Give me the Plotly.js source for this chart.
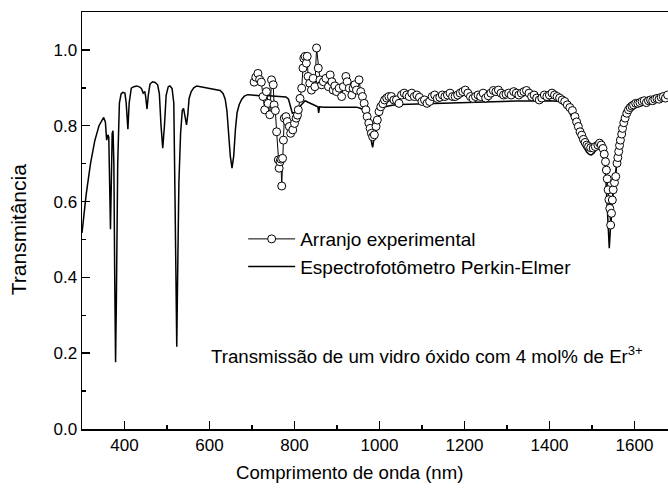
<!DOCTYPE html>
<html>
<head>
<meta charset="utf-8">
<script src="https://cdn.plot.ly/plotly-3.0.1.min.js"></script>
<style>html,body{margin:0;padding:0;background:#fff}#chart{width:668px;height:492px}</style>
</head>
<body>
<div id="chart"></div>
<script>
// Perkin-Elmer spectrophotometer curve (wavelength nm, transmittance)
const peWavelength = [300,310,320,330,340,351,355,358,361,363,365,367,369,371,373,375,377,379,381,384,388,392,396,401,404,408,411,416,422,429,436,440,444,448,450,453,456,460,466,472,478,482,486,490,494,498,503,507,512,516,519,521,523,525,528,532,536,539,542,546,549,552,557,563,570,580,600,615,625,632,637,641,645,649,653,657,661,665,670,676,682,690,700,720,740,760,780,786,790,795,800,806,813,820,825,832,840,848,855,857,859,870,890,920,946,955,962,968,974,979,982,984,987,991,997,1005,1013,1030,1050,1080,1120,1160,1200,1240,1280,1320,1360,1400,1425,1435,1445,1456,1466,1474,1480,1488,1494,1499,1505,1510,1515,1519,1523,1527,1531,1535,1538,1540.8,1543,1546,1550,1554,1560,1565,1570,1575,1580,1589,1600,1615,1629,1645,1660,1679];
const peTransmittance = [0.517,0.62,0.70,0.76,0.80,0.822,0.81,0.762,0.776,0.77,0.65,0.527,0.65,0.78,0.787,0.70,0.40,0.176,0.35,0.70,0.86,0.884,0.888,0.886,0.86,0.791,0.86,0.899,0.903,0.905,0.902,0.898,0.886,0.890,0.875,0.844,0.88,0.910,0.916,0.914,0.908,0.885,0.80,0.741,0.80,0.880,0.903,0.905,0.898,0.86,0.60,0.35,0.217,0.40,0.65,0.78,0.84,0.846,0.825,0.802,0.83,0.872,0.890,0.900,0.905,0.903,0.900,0.896,0.893,0.885,0.870,0.84,0.78,0.72,0.688,0.72,0.79,0.835,0.856,0.870,0.878,0.882,0.881,0.879,0.879,0.878,0.876,0.870,0.855,0.833,0.835,0.843,0.851,0.862,0.866,0.862,0.858,0.854,0.850,0.834,0.850,0.849,0.849,0.849,0.849,0.846,0.842,0.825,0.800,0.772,0.752,0.743,0.765,0.800,0.820,0.838,0.850,0.854,0.856,0.857,0.859,0.860,0.861,0.863,0.864,0.865,0.865,0.866,0.864,0.855,0.840,0.815,0.782,0.757,0.745,0.730,0.724,0.723,0.728,0.740,0.752,0.758,0.752,0.735,0.70,0.62,0.54,0.477,0.52,0.58,0.625,0.657,0.73,0.775,0.807,0.830,0.845,0.855,0.858,0.860,0.861,0.865,0.868,0.872];

// Experimental setup (wavelength nm, transmittance)
const expWavelength = [705,709,714,718,722,726,730,734,738,742,746,750,752,755,758,762,764,766,768,770,772,774,776,780,783,788,791,796,800,804,807,809,813,817,820,822,825,828,830,832,836,840,844,848,852,856,860,864,868,874,880,884,888,891,895,899,905,911,915,921,924,929,935,938,942,946,952,956,960,964,968,971,975,978,981,984,988,992,995,999,1003,1008,1012,1017,1022,1028,1034,1040,1046,1052,1058,1064,1070,1076,1082,1088,1094,1100,1106,1112,1118,1124,1130,1136,1142,1148,1154,1160,1166,1172,1178,1184,1190,1196,1202,1208,1214,1220,1226,1232,1238,1244,1250,1256,1262,1268,1274,1280,1286,1292,1298,1304,1310,1316,1322,1328,1334,1340,1346,1352,1358,1364,1370,1376,1382,1388,1394,1400,1406,1412,1418,1424,1430,1436,1442,1448,1454,1460,1464,1468,1472,1476,1480,1484,1488,1492,1497,1503,1508,1514,1518,1522,1526,1529,1532,1534,1536,1538,1540,1542,1544,1546,1548,1550,1553,1556,1559,1561,1563,1565,1567,1570,1572,1575,1578,1582,1586,1590,1594,1598,1603,1608,1613,1618,1623,1628,1633,1638,1643,1648,1653,1658,1663,1668,1673,1678];
const expTransmittance = [0.915,0.928,0.938,0.922,0.915,0.877,0.842,0.890,0.859,0.829,0.921,0.908,0.855,0.840,0.784,0.710,0.688,0.705,0.712,0.641,0.714,0.762,0.820,0.824,0.811,0.798,0.780,0.789,0.806,0.820,0.828,0.842,0.872,0.899,0.952,0.978,0.983,0.965,0.983,0.930,0.912,0.894,0.925,0.903,1.005,0.952,0.921,0.908,0.916,0.925,0.903,0.934,0.916,0.894,0.905,0.890,0.899,0.877,0.903,0.930,0.916,0.899,0.881,0.899,0.908,0.894,0.921,0.890,0.877,0.859,0.842,0.824,0.807,0.793,0.780,0.771,0.776,0.798,0.815,0.837,0.850,0.858,0.868,0.873,0.877,0.877,0.868,0.868,0.859,0.881,0.886,0.881,0.877,0.886,0.877,0.881,0.875,0.864,0.868,0.859,0.864,0.877,0.881,0.872,0.875,0.881,0.877,0.881,0.886,0.877,0.877,0.881,0.886,0.890,0.894,0.886,0.877,0.872,0.877,0.881,0.877,0.886,0.873,0.879,0.886,0.893,0.890,0.894,0.886,0.881,0.883,0.886,0.881,0.890,0.886,0.881,0.886,0.890,0.893,0.886,0.877,0.881,0.873,0.868,0.873,0.881,0.877,0.881,0.886,0.881,0.877,0.873,0.868,0.864,0.855,0.848,0.840,0.824,0.810,0.798,0.784,0.775,0.764,0.756,0.749,0.745,0.742,0.741,0.745,0.749,0.754,0.749,0.740,0.725,0.705,0.683,0.660,0.631,0.605,0.582,0.538,0.569,0.604,0.631,0.650,0.666,0.701,0.716,0.732,0.748,0.762,0.778,0.793,0.808,0.820,0.833,0.842,0.848,0.852,0.855,0.859,0.859,0.861,0.864,0.866,0.861,0.866,0.868,0.866,0.870,0.872,0.870,0.875,0.877,0.873,0.881];

const seriesNames = ['Arranjo experimental', 'Espectrofotômetro Perkin-Elmer'];
const annotationText = 'Transmissão de um vidro óxido com 4 mol% de Er<sup>3+</sup>';
const xTitle = 'Comprimento de onda (nm)';
const yTitle = 'Transmitância';

const FONT = 'Liberation Sans, Arial, sans-serif';

const traces = [
  {
    x: peWavelength, y: peTransmittance, name: seriesNames[1],
    mode: 'lines', type: 'scatter',
    line: {color: '#000', width: 1.5}, legendrank: 2
  },
  {
    x: expWavelength, y: expTransmittance, name: seriesNames[0],
    mode: 'lines+markers', type: 'scatter',
    line: {color: '#000', width: 1},
    marker: {symbol: 'circle', size: 8, color: '#fff', line: {color: '#000', width: 1}},
    legendrank: 1
  }
];

const layout = {
  width: 668, height: 492,
  margin: {l: 82, r: 0, t: 12, b: 63},
  paper_bgcolor: '#fff', plot_bgcolor: '#fff',
  font: {family: FONT, color: '#000', size: 17},
  showlegend: true,
  legend: {
    x: 0.275, y: 0.422, xanchor: 'left', yanchor: 'middle',
    bgcolor: 'rgba(0,0,0,0)', font: {size: 19, family: FONT},
    itemwidth: 47, tracegroupgap: 0
  },
  xaxis: {
    range: [300, 1679], showgrid: false, zeroline: false,
    showline: true, linecolor: '#000', linewidth: 1.5, mirror: true,
    ticks: 'inside', ticklen: 8, tickwidth: 1.5, tickcolor: '#000',
    tick0: 0, dtick: 200,
    minor: {ticks: 'inside', ticklen: 4, tickwidth: 1.5, tickcolor: '#000', dtick: 100, showgrid: false},
    tickfont: {size: 17, family: FONT}
  },
  yaxis: {
    range: [0, 1.1], showgrid: false, zeroline: false,
    showline: true, linecolor: '#000', linewidth: 1.5, mirror: false,
    ticks: 'inside', ticklen: 8, tickwidth: 1.5, tickcolor: '#000',
    tick0: 0, dtick: 0.2, tickformat: '.1f',
    minor: {ticks: 'inside', ticklen: 4, tickwidth: 1.5, tickcolor: '#000', dtick: 0.1, showgrid: false},
    tickfont: {size: 17, family: FONT}
  },
  annotations: [
    {
      text: annotationText, xref: 'paper', yref: 'paper',
      x: 0.217, y: 0.177, xanchor: 'left', yanchor: 'middle', showarrow: false,
      font: {size: 18.7, family: FONT, color: '#000'}
    },
    {
      text: xTitle, xref: 'paper', yref: 'paper',
      x: 0.457, y: -0.1055, xanchor: 'center', yanchor: 'middle', showarrow: false,
      font: {size: 18.6, family: FONT, color: '#000'}
    },
    {
      text: yTitle, xref: 'paper', yref: 'paper', textangle: -90,
      x: -0.109, y: 0.477, xanchor: 'center', yanchor: 'middle', showarrow: false,
      font: {size: 21, family: FONT, color: '#000'}
    }
  ]
};

Plotly.newPlot('chart', traces, layout, {displayModeBar: false, staticPlot: true});
</script>
</body>
</html>
